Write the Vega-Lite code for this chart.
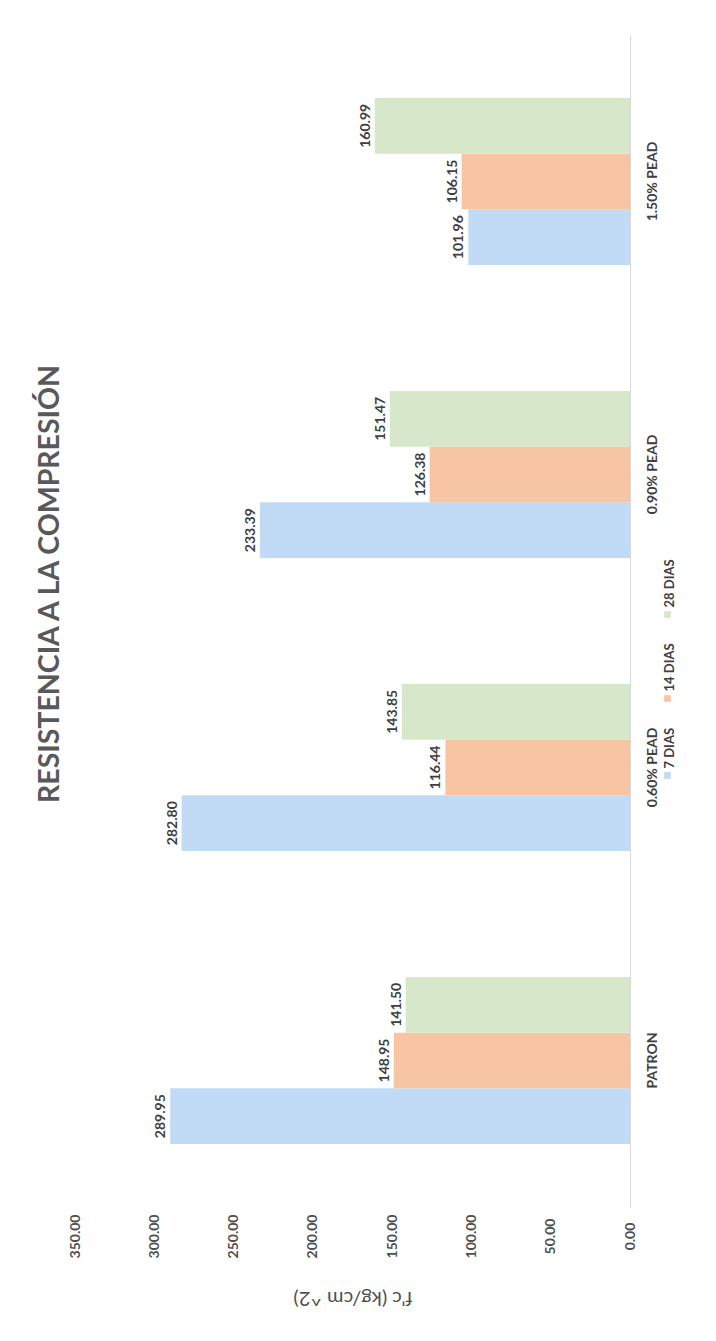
{
  "$schema": "https://vega.github.io/schema/vega-lite/v6.json",
  "width": 555,
  "height": 1172,
  "autosize": "none",
  "padding": {"left": 75, "top": 35, "right": 86, "bottom": 134},
  "background": "white",
  "config": {"view": {"stroke": null}, "font": "Lato"},
  "title": {
    "text": "RESISTENCIA A LA COMPRESIÓN",
    "orient": "left",
    "anchor": "middle",
    "font": "Lato",
    "fontSize": 28.5,
    "fontWeight": "bold",
    "color": "#595959",
    "offset": 4,
    "dx": 37
  },
  "data": {
    "values": [
      {"mezcla": "PATRON", "edad": "7 DIAS", "fc": 289.95},
      {"mezcla": "PATRON", "edad": "14 DIAS", "fc": 148.95},
      {"mezcla": "PATRON", "edad": "28 DIAS", "fc": 141.50},
      {"mezcla": "0.60% PEAD", "edad": "7 DIAS", "fc": 282.80},
      {"mezcla": "0.60% PEAD", "edad": "14 DIAS", "fc": 116.44},
      {"mezcla": "0.60% PEAD", "edad": "28 DIAS", "fc": 143.85},
      {"mezcla": "0.90% PEAD", "edad": "7 DIAS", "fc": 233.39},
      {"mezcla": "0.90% PEAD", "edad": "14 DIAS", "fc": 126.38},
      {"mezcla": "0.90% PEAD", "edad": "28 DIAS", "fc": 151.47},
      {"mezcla": "1.50% PEAD", "edad": "7 DIAS", "fc": 101.96},
      {"mezcla": "1.50% PEAD", "edad": "14 DIAS", "fc": 106.15},
      {"mezcla": "1.50% PEAD", "edad": "28 DIAS", "fc": 160.99}
    ]
  },
  "encoding": {
    "y": {
      "field": "mezcla",
      "type": "nominal",
      "sort": ["1.50% PEAD", "0.90% PEAD", "0.60% PEAD", "PATRON"],
      "scale": {"paddingInner": 0.43, "paddingOuter": 0.215},
      "axis": {
        "orient": "right",
        "title": null,
        "domain": true,
        "domainColor": "#d9d9d9",
        "ticks": false,
        "labelAngle": 270,
        "labelAlign": "center",
        "labelBaseline": "top",
        "labelPadding": 15,
        "labelFontSize": 14,
        "labelFontWeight": "bold",
        "labelColor": "#404040"
      }
    },
    "yOffset": {
      "field": "edad",
      "type": "nominal",
      "sort": ["28 DIAS", "14 DIAS", "7 DIAS"],
      "scale": {"paddingInner": 0, "paddingOuter": 0}
    },
    "x": {
      "field": "fc",
      "type": "quantitative",
      "scale": {"domain": [0, 350], "reverse": true, "nice": false},
      "axis": {
        "orient": "bottom",
        "values": [0, 50, 100, 150, 200, 250, 300, 350],
        "format": ".2f",
        "grid": false,
        "domain": false,
        "ticks": false,
        "labelAngle": 270,
        "labelAlign": "center",
        "labelBaseline": "middle",
        "labelPadding": 29,
        "labelFontSize": 14,
        "labelFontWeight": "bold",
        "labelColor": "#505050",
        "title": "f'c (kg/cm ^2)",
        "titleAngle": 180,
        "titleAlign": "center",
        "titleBaseline": "middle",
        "titleY": 90,
        "titleFontSize": 20,
        "titleFontWeight": "normal",
        "titleColor": "#505050"
      }
    }
  },
  "layer": [
    {
      "mark": {"type": "bar"},
      "encoding": {
        "color": {
          "field": "edad",
          "type": "nominal",
          "scale": {"domain": ["28 DIAS", "14 DIAS", "7 DIAS"], "range": ["#d6e8c9", "#f8c5a2", "#c1daf5"]},
          "legend": {
            "orient": "none",
            "legendX": 586,
            "legendY": 573,
            "direction": "vertical",
            "title": null,
            "symbolType": "square",
            "symbolSize": 45,
            "symbolStrokeWidth": 0,
            "labelFontSize": 13,
            "labelFontWeight": "bold",
            "labelColor": "#404040",
            "labelOffset": 0,
            "rowPadding": 25,
            "encode": {
              "labels": {
                "update": {
                  "angle": {"value": 270},
                  "align": {"value": "left"},
                  "baseline": {"value": "middle"},
                  "dx": {"value": 7},
                  "dy": {"value": -4}
                }
              }
            }
          }
        }
      }
    },
    {
      "mark": {
        "type": "text",
        "angle": 270,
        "align": "center",
        "baseline": "bottom",
        "dy": -2,
        "fontSize": 14,
        "fontWeight": "bold",
        "color": "#404040"
      },
      "encoding": {
        "text": {"field": "fc", "type": "quantitative", "format": ".2f"}
      }
    }
  ]
}
